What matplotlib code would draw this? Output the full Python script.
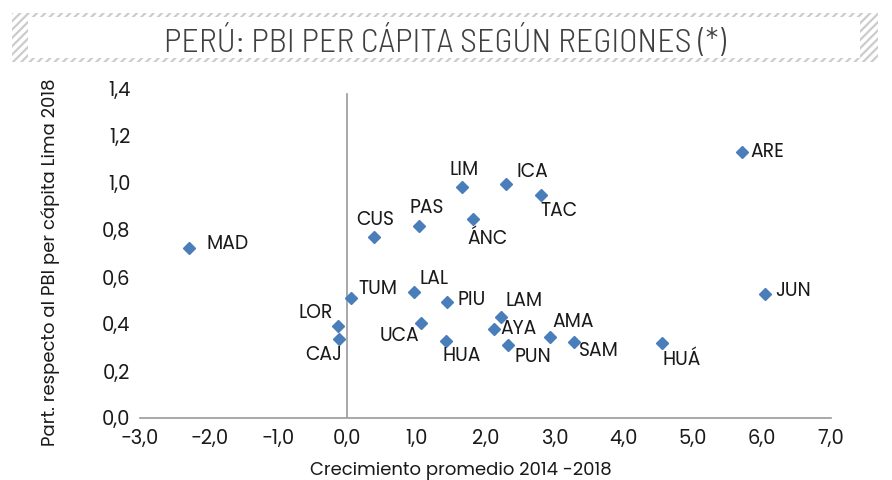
import matplotlib
matplotlib.use("Agg")
import matplotlib.pyplot as plt
import matplotlib.patches as patches
from matplotlib.ticker import FuncFormatter, MultipleLocator

# data
regiones = ["MAD", "CUS", "PAS", "LIM", "ÁNC", "ICA", "TAC", "ARE", "TUM", "LOR",
            "CAJ", "LAL", "PIU", "UCA", "HUA", "LAM", "AYA", "PUN", "AMA", "SAM",
            "HUÁ", "JUN"]
crecimiento = [-2.29, 0.39, 1.04, 1.66, 1.82, 2.29, 2.81, 5.71, 0.05, -0.13,
               -0.12, 0.97, 1.45, 1.07, 1.43, 2.23, 2.12, 2.33, 2.93, 3.28,
               4.55, 6.04]
part_pbi = [0.725, 0.77, 0.818, 0.984, 0.847, 0.996, 0.949, 1.133, 0.512, 0.391,
            0.336, 0.535, 0.495, 0.406, 0.326, 0.428, 0.379, 0.311, 0.345, 0.325,
            0.319, 0.529]

# label placement (pixel offsets from the marker, alignment)
lbl = {
    "MAD": (17, -4, "left"), "CUS": (1, -17, "center"), "PAS": (8, -18, "center"),
    "LIM": (2, -17, "center"), "ÁNC": (14, 20, "center"), "ICA": (11, -12, "left"),
    "TAC": (-1, 16, "left"), "ARE": (9, 0, "left"), "TUM": (8, -9, "left"),
    "LOR": (-5, -13, "right"), "CAJ": (3, 16, "right"), "LAL": (5, -13, "left"),
    "PIU": (10, -2, "left"), "UCA": (-2, 13, "right"), "HUA": (-4, 15, "left"),
    "LAM": (4, -16, "left"), "AYA": (7, 0, "left"), "PUN": (6, 12, "left"),
    "AMA": (3, -15, "left"), "SAM": (5, 9, "left"), "HUÁ": (1, 17, "left"),
    "JUN": (11, -3, "left"),
}

plt.rcParams["font.family"] = ["Poppins", "DejaVu Sans"]
plt.rcParams["hatch.linewidth"] = 1.6

W, H = 892, 480
fig = plt.figure(figsize=(W / 100, H / 100), dpi=100)
ax = fig.add_axes([140 / W, 1 - 418 / H, 691 / W, 329 / H])

ax.plot(crecimiento, part_pbi, linestyle="none", marker="D", markersize=6.6,
        color="#4a7ebb", zorder=3)

for name, x, y in zip(regiones, crecimiento, part_pbi):
    dx, dy, ha = lbl[name]
    ax.annotate(name, (x, y), xytext=(dx * 0.72, -dy * 0.72), textcoords="offset points",
                ha=ha, va="center", fontsize=13.5, color="#1a1a1a")

ax.set_xlim(-3, 7)
ax.set_ylim(0, 1.4)
ax.xaxis.set_major_locator(MultipleLocator(1))
ax.yaxis.set_major_locator(MultipleLocator(0.2))
fmt = FuncFormatter(lambda v, p: f"{v:.1f}".replace(".", ",").replace("-", "\u2212"))
ax.xaxis.set_major_formatter(fmt)
ax.yaxis.set_major_formatter(fmt)
ax.tick_params(length=0, labelsize=14, colors="#1a1a1a")
ax.tick_params(axis="x", pad=8)
ax.tick_params(axis="y", pad=7)

for s in ["top", "right", "left"]:
    ax.spines[s].set_visible(False)
ax.spines["bottom"].set_color("#9a9a9a")
ax.spines["bottom"].set_linewidth(1.2)
ax.axvline(0, ymax=0.985, color="#9a9a9a", linewidth=1.2, zorder=1)

fig.text(50 / W, 1 - 262 / H, "Part. respecto al PBI per cápita Lima 2018",
         rotation=90, ha="center", va="center", fontsize=13, color="#1a1a1a")
fig.text(461 / W, 1 - 471 / H, "Crecimiento promedio 2014 -2018",
         ha="center", va="center", fontsize=13, color="#1a1a1a")

# hatched title frame
outer = patches.Rectangle((12 / W, 1 - 62 / H), 866 / W, 49 / H, transform=fig.transFigure,
                          facecolor="white", edgecolor="#cccccc", linewidth=0,
                          hatch="////", zorder=0)
inner = patches.Rectangle((28 / W, 1 - 58 / H), 832 / W, 41 / H, transform=fig.transFigure,
                          facecolor="white", edgecolor="none", zorder=1)
fig.patches.extend([outer, inner])
fig.text(445 / W, 1 - 42 / H, "PERÚ: PBI PER CÁPITA SEGÚN REGIONES (*)",
         ha="center", va="center", fontsize=24.3, color="#404040", fontweight=300,
         family=["Barlow Semi Condensed", "DejaVu Sans"], zorder=2)

fig.savefig("out.png", dpi=100)
